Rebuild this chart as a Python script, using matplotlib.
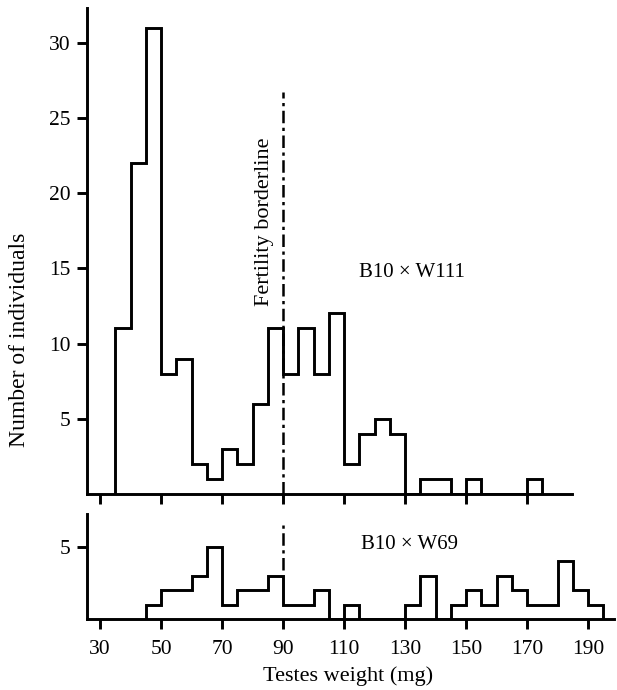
import numpy as np
import matplotlib
matplotlib.use("Agg")
import matplotlib.pyplot as plt

plt.rcParams['font.family'] = ['Liberation Serif', 'DejaVu Serif']

# B10 x W111 counts, 5 mg bins starting at 35 mg
w111_start = 35
w111_counts = [11, 22, 31, 8, 9, 2, 1, 3, 2, 6, 11, 8, 11, 8, 12, 2, 4, 5, 4,
               0, 1, 1, 0, 1, 0, 0, 0, 1]

# B10 x W69 counts, 5 mg bins starting at 45 mg
w69_start = 45
w69_counts = [1, 2, 2, 3, 5, 1, 2, 2, 3, 1, 1, 2, 0, 1, 0, 0, 0, 1, 3, 0,
              1, 2, 1, 3, 2, 1, 1, 4, 2, 1]

bin_width = 5
x_ticks = [30, 50, 70, 90, 110, 130, 150, 170, 190]
top_yticks = [5, 10, 15, 20, 25, 30]
bottom_yticks = [5]
borderline = 90

W, H = 617, 690
fig = plt.figure(figsize=(W / 100, H / 100), dpi=100)

px_per_mg = 3.05
x_left = 25.7
lw = 2.1


def make_axes(left_px, right_px, bottom_px, top_px):
    ax = fig.add_axes([left_px / W, 1 - bottom_px / H,
                       (right_px - left_px) / W, (bottom_px - top_px) / H])
    ax.set_xlim(x_left, x_left + (right_px - left_px) / px_per_mg)
    for s in ['top', 'right']:
        ax.spines[s].set_visible(False)
    for s in ['left', 'bottom']:
        ax.spines[s].set_linewidth(lw)
    ax.tick_params(direction='out', length=7, width=lw, labelsize=15.5)
    ax.tick_params(axis='y', pad=5)
    ax.tick_params(axis='x', pad=8)
    return ax


dashdot = (0, (5, 1.8, 1.3, 1.8))

# top panel
ax1 = make_axes(87, 572, 494, 8)
edges1 = w111_start + bin_width * np.arange(len(w111_counts) + 1)
ax1.stairs(w111_counts, edges1, color='black', lw=lw, baseline=0)
ax1.set_ylim(0, 32.3)
ax1.set_yticks(top_yticks)
ax1.set_xticks([t for t in x_ticks if t < 185])
ax1.set_xticklabels([])
ax1.plot([borderline, borderline], [0, 26.7], color='black', lw=1.8,
         linestyle=dashdot)
ax1.text(83.8, 18.1, 'Fertility borderline', rotation=90,
         ha='center', va='center', fontsize=16)
ax1.text(132.3, 14.7, 'B10 × W111', ha='center', va='center', fontsize=15)
ax1.set_ylabel('Number of individuals', fontsize=17)
ax1.yaxis.set_label_coords(-0.118, 0.317)

# bottom panel
ax2 = make_axes(87, 614, 619, 514)
edges2 = w69_start + bin_width * np.arange(len(w69_counts) + 1)
ax2.stairs(w69_counts, edges2, color='black', lw=lw, baseline=0)
ax2.set_ylim(0, 7.3)
ax2.set_yticks(bottom_yticks)
ax2.set_xticks(x_ticks)
ax2.plot([borderline, borderline], [3.4, 6.6], color='black', lw=1.8,
         linestyle=dashdot)
ax2.text(131.3, 5.17, 'B10 × W69', ha='center', va='center', fontsize=15)
ax2.set_xlabel('Testes weight (mg)', fontsize=16)
ax2.xaxis.set_label_coords(0.495, -0.45)

fig.savefig('out.png', dpi=100)
